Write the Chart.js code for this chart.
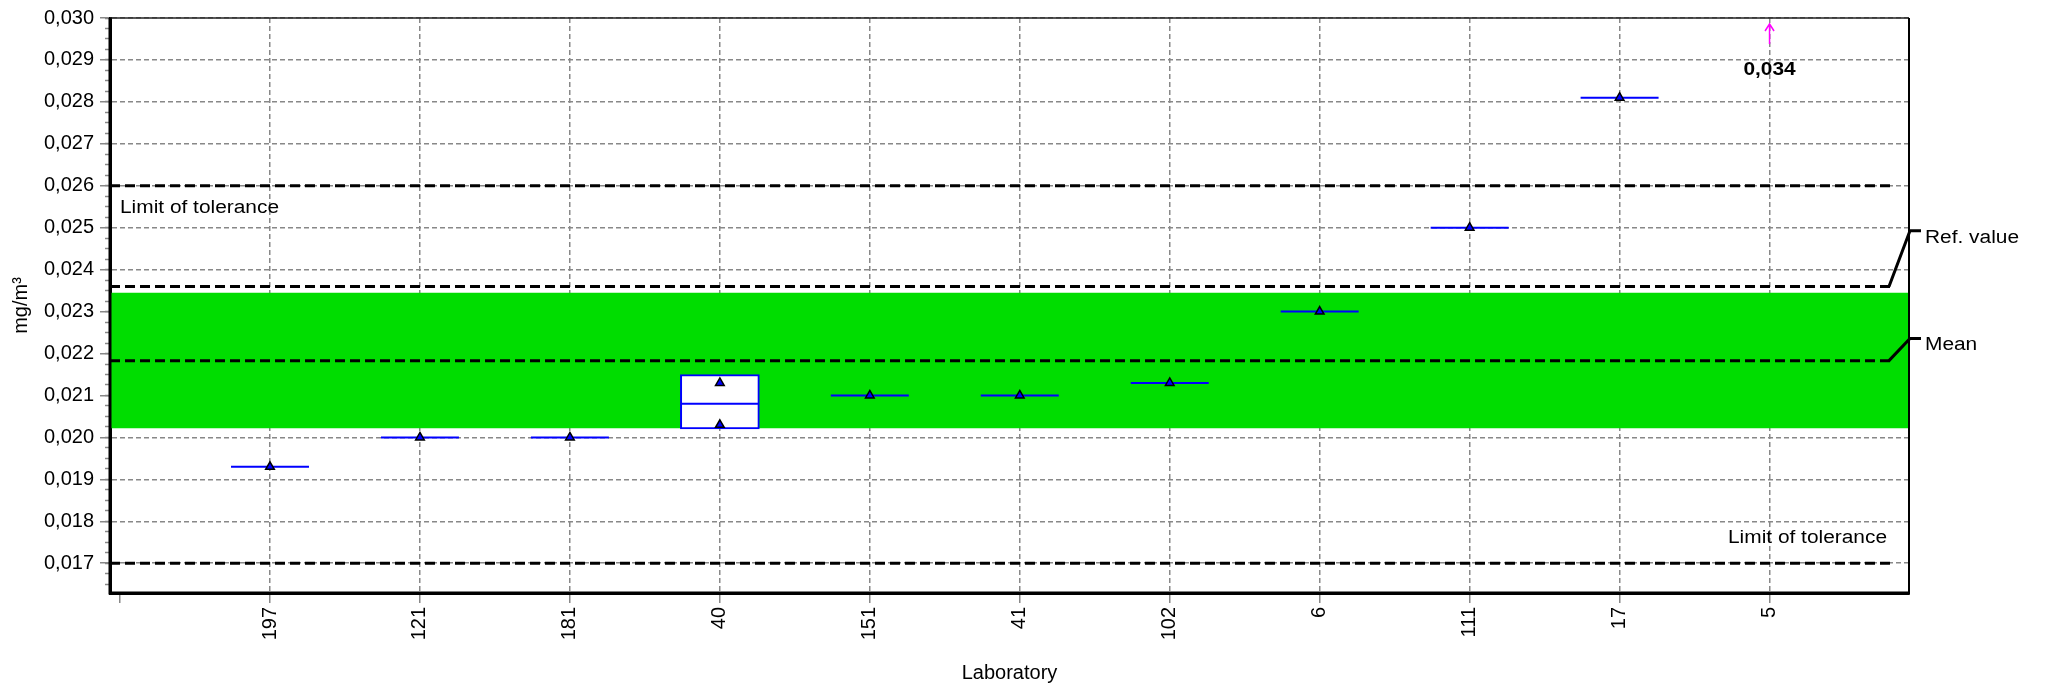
<!DOCTYPE html>
<html>
<head>
<meta charset="utf-8">
<script src="https://cdn.jsdelivr.net/npm/chart.js@4/dist/chart.umd.min.js"></script>
<style>
  html, body { margin: 0; padding: 0; background: #fff; }
</style>
</head>
<body>
<canvas id="chart" width="2049" height="687"></canvas>
<script>
// laboratories in plot order and their results (mg/m³)
const labs = ['197', '121', '181', '40', '151', '41', '102', '6', '111', '17', '5'];
const labMeans = [0.0193, 0.0200, 0.0200, 0.0208, 0.0210, 0.0210, 0.0213, 0.0230, 0.0250, 0.0281, 0.0340];
const labResults = [[0.0193], [0.0200], [0.0200], [0.0213, 0.0203], [0.0210], [0.0210], [0.0213], [0.0230], [0.0250], [0.0281], [0.0340]];
const boxLab = '40';
const boxLow = 0.0202;
const boxHigh = 0.0215;

const refValue = 0.0236;
const meanValue = 0.02183;
const upperLimit = 0.026;
const lowerLimit = 0.017;
const bandLow = 0.02022;
const bandHigh = 0.02345;

const yMin = 0.01629, yMax = 0.030;
const xMin = -0.067, xMax = 11.93;
const lineEnd = 11.83;      // where the dashed reference lines stop
const halfWidth = 0.26;     // half length of the blue result bars
const refLabelY = 0.02493;
const meanLabelY = 0.02236;

const fontFamily = "'Liberation Sans', Arial, sans-serif";
const pos = i => i + 1;
const fmt = v => v.toFixed(3).replace('.', ',');

// blue bars at each lab mean, split with gaps
const meanSegments = [];
labMeans.forEach((v, i) => {
    if (v > yMax) return;
    meanSegments.push({ x: pos(i) - halfWidth, y: v }, { x: pos(i) + halfWidth, y: v }, { x: pos(i), y: null });
});

// single results as triangles
const resultPoints = [];
labResults.forEach((vals, i) => {
    vals.forEach(v => { if (v <= yMax) resultPoints.push({ x: pos(i), y: v }); });
});

const dashedLine = (v) => ({
    type: 'line',
    data: [{ x: xMin, y: v }, { x: lineEnd, y: v }],
    borderColor: '#000',
    borderWidth: 3,
    borderDash: [10, 5],
    pointRadius: 0,
    fill: false,
    order: 6,
});

// texts, leaders, off-scale arrows and the frame
const decorations = {
    id: 'decorations',
    afterDatasetsDraw(chart) {
        const { ctx, chartArea: a, scales: { x, y } } = chart;
        ctx.save();

        const text = (str, px, py, align, weight) => {
            ctx.save();
            ctx.font = (weight || '') + ' 18px ' + fontFamily;
            ctx.fillStyle = '#000';
            ctx.textBaseline = 'middle';
            ctx.textAlign = align;
            ctx.translate(px, py);
            ctx.scale(1.16, 1);
            ctx.fillText(str, 0, 0);
            ctx.restore();
        };

        // frame
        ctx.strokeStyle = '#222';
        ctx.lineWidth = 1.5;
        ctx.beginPath();
        ctx.moveTo(a.left, a.top);
        ctx.lineTo(a.right, a.top);
        ctx.stroke();
        ctx.strokeStyle = '#000';
        ctx.lineWidth = 2;
        ctx.beginPath();
        ctx.moveTo(a.right, a.top);
        ctx.lineTo(a.right, a.bottom);
        ctx.stroke();
        ctx.lineWidth = 3;
        ctx.beginPath();
        ctx.moveTo(a.left, a.top);
        ctx.lineTo(a.left, a.bottom);
        ctx.lineTo(a.right + 1, a.bottom);
        ctx.stroke();

        // tolerance labels
        text('Limit of tolerance', a.left + 10, y.getPixelForValue(upperLimit) + 22, 'left');
        text('Limit of tolerance', x.getPixelForValue(lineEnd) - 7, y.getPixelForValue(lowerLimit) - 25, 'right');

        // leaders for ref value and mean
        const xs = x.getPixelForValue(lineEnd) - 5;
        [[refValue, refLabelY, 'Ref. value'], [meanValue, meanLabelY, 'Mean']].forEach(([v, lv, label]) => {
            const ly = y.getPixelForValue(lv);
            ctx.strokeStyle = '#000';
            ctx.lineWidth = 3;
            ctx.beginPath();
            ctx.moveTo(xs, y.getPixelForValue(v));
            ctx.lineTo(a.right + 1, ly);
            ctx.lineTo(a.right + 12, ly);
            ctx.stroke();
            text(label, a.right + 16, ly + 7, 'left');
        });

        // off-scale results
        labMeans.forEach((v, i) => {
            if (v <= yMax) return;
            const px = x.getPixelForValue(pos(i));
            ctx.strokeStyle = '#ff00ff';
            ctx.lineWidth = 1.5;
            ctx.beginPath();
            ctx.moveTo(px, a.top + 26);
            ctx.lineTo(px, a.top + 6);
            ctx.moveTo(px - 4.5, a.top + 13);
            ctx.lineTo(px, a.top + 6);
            ctx.lineTo(px + 4.5, a.top + 13);
            ctx.stroke();
            text(fmt(v), px, a.top + 52, 'center', 'bold');
        });

        ctx.restore();
    }
};

new Chart(document.getElementById('chart'), {
    type: 'scatter',
    data: {
        datasets: [
            {
                type: 'line',
                data: [{ x: xMin, y: bandHigh }, { x: xMax, y: bandHigh }],
                fill: { value: bandLow },
                backgroundColor: '#00dd00',
                borderWidth: 0,
                pointRadius: 0,
                order: 10,
            },
            dashedLine(upperLimit),
            dashedLine(refValue),
            dashedLine(meanValue),
            dashedLine(lowerLimit),
            {
                type: 'bar',
                data: [{ x: pos(labs.indexOf(boxLab)), y: [boxLow, boxHigh] }],
                backgroundColor: '#fff',
                borderColor: '#0000ff',
                borderWidth: 2,
                borderSkipped: false,
                barThickness: 79,
                order: 5,
            },
            {
                type: 'line',
                data: meanSegments,
                borderColor: '#0000ff',
                borderWidth: 2,
                pointRadius: 0,
                spanGaps: false,
                fill: false,
                order: 3,
            },
            {
                type: 'scatter',
                data: resultPoints,
                pointStyle: 'triangle',
                pointRadius: 5,
                backgroundColor: '#0000ff',
                borderColor: '#000',
                borderWidth: 1.5,
                order: 1,
            },
        ],
    },
    options: {
        responsive: false,
        devicePixelRatio: 1,
        animation: false,
        layout: { padding: { left: 0, top: 17, right: 140, bottom: 0 } },
        plugins: {
            legend: { display: false },
            tooltip: { enabled: false },
        },
        scales: {
            x: {
                type: 'linear',
                offset: false,
                min: xMin,
                max: xMax,
                afterFit: s => { s.height = 94; },
                ticks: {
                    stepSize: 1,
                    maxTicksLimit: 20,
                    includeBounds: false,
                    autoSkip: false,
                    minRotation: 90,
                    maxRotation: 90,
                    padding: 4,
                    color: '#000',
                    font: { family: fontFamily, size: 20 },
                    callback: v => {
                        const i = Math.round(v);
                        return i >= 1 && i <= labs.length ? labs[i - 1] : '';
                    },
                },
                grid: {
                    offset: false,
                    color: c => (c.tick && Math.round(c.tick.value) > 0 ? '#888' : 'rgba(0,0,0,0)'),
                    lineWidth: 1.5,
                    tickColor: '#888',
                    tickLength: 10,
                    tickWidth: 1.5,
                },
                border: { display: true, color: '#000', width: 3, dash: [5, 3] },
                title: {
                    display: true,
                    text: 'Laboratory',
                    color: '#000',
                    font: { family: fontFamily, size: 20 },
                    padding: { top: 0, bottom: 2 },
                },
            },
            y: {
                type: 'linear',
                position: 'left',
                weight: 1,
                min: yMin,
                max: yMax,
                afterFit: s => { s.width = 110; },
                ticks: {
                    stepSize: 0.001,
                    maxTicksLimit: 30,
                    includeBounds: false,
                    padding: 6,
                    color: '#000',
                    font: { family: fontFamily, size: 20 },
                    callback: v => fmt(v),
                },
                grid: {
                    color: '#888',
                    lineWidth: 1.5,
                    tickColor: '#888',
                    tickLength: 10,
                    tickWidth: 1.5,
                },
                border: { display: true, color: '#000', width: 3, dash: [5, 3] },
                title: {
                    display: true,
                    text: 'mg/m³',
                    color: '#000',
                    font: { family: fontFamily, size: 20 },
                    padding: { top: 9, bottom: 0 },
                },
            },
            yMinor: {
                type: 'linear',
                position: 'left',
                weight: 0,
                min: yMin,
                max: yMax,
                afterFit: s => { s.width = 0; },
                ticks: {
                    display: false,
                    stepSize: 0.00025,
                    maxTicksLimit: 100,
                    includeBounds: false,
                },
                grid: {
                    drawOnChartArea: false,
                    tickColor: '#888',
                    tickLength: 5,
                    tickWidth: 1.5,
                },
                border: { display: false },
            },
        },
    },
    plugins: [decorations],
});
</script>
</body>
</html>
